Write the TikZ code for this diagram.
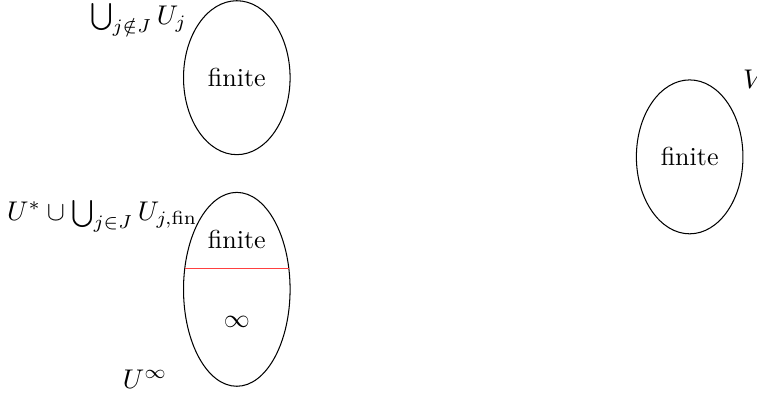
\documentclass[tikz,border=0pt]{standalone}
\usepackage{amsmath,amssymb}
\usetikzlibrary{shapes,positioning,calc}
\usepackage{xcolor}

\begin{document}
\begin{tikzpicture}[
    blob/.style={draw, ellipse, inner sep=0pt, outer sep=0pt, minimum width=1.44cm, minimum height=2.08cm},
    cutline/.style={red!75, thin},
    setlab/.style={inner sep=1pt, scale=1.04}
  ]
  \useasboundingbox (0,0) rectangle (10.23,-5.35);
  % the three sets
  \node[blob] (top) at (3.20,-1.05) {finite};
  \node[blob, minimum height=2.62cm] (low) at (3.20,-3.91) {};
  \node[blob] (vset) at (9.32,-2.12) {finite};
  % split of the lower set
  \coordinate (cutl) at ($(low.center)+(-0.705,0.282)$);
  \coordinate (cutr) at ($(low.center)+(0.705,0.282)$);
  \draw[cutline] (cutl) -- (cutr);
  \node (lowfin) at (3.20,-3.24) {finite};
  \node (lowinf) at (3.20,-4.35) {$\infty$};
  % labels
  \node[setlab] (toplab) at (1.87,-0.27) {$\bigcup_{j\notin J} U_j$};
  \node[setlab] (lowlab) at (1.38,-2.92) {$U^*\cup\bigcup_{j\in J} U_{j,\mathrm{fin}}$};
  \node[setlab] (inflab) at (1.96,-5.12) {$U^\infty$};
  \node[setlab] (vlab) at (10.19,-1.07) {$V$};
\end{tikzpicture}
\end{document}
